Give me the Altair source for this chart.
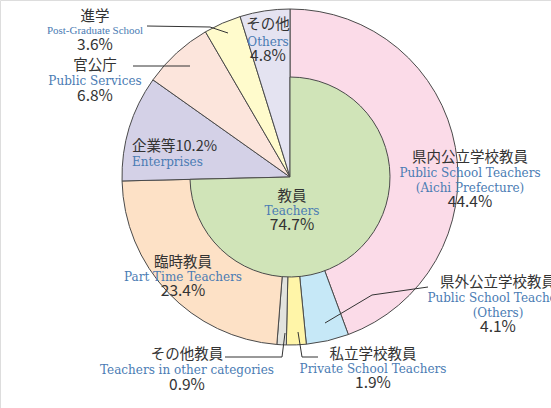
import altair as alt
import pandas as pd

# ---- data ----
categories = ["県内公立学校教員", "県外公立学校教員", "私立学校教員", "その他教員",
              "臨時教員", "企業等", "官公庁", "進学", "その他"]
english = ["Public School Teachers\n(Aichi Prefecture)", "Public School Teachers\n(Others)",
           "Private School Teachers", "Teachers in other categories", "Part Time Teachers",
           "Enterprises", "Public Services", "Post-Graduate School", "Others"]
values = [44.4, 4.1, 1.9, 0.9, 23.4, 10.2, 6.8, 3.6, 4.8]
colors = ["#fbdbe8", "#c6e8f7", "#fff5a8", "#e2e3de", "#fde1c6",
          "#d4d1e7", "#fce5dc", "#fffbcc", "#e4e3f1"]
inner_labels = ["教員", "other"]
inner_values = [74.7, 25.3]
inner_colors = ["#d0e4b8", "transparent"]
inner_strokes = ["#4a4a4a", "transparent"]

CX, CY = 290, 177
R_OUT, R_IN = 168, 100
JP_FONT = "Noto Sans CJK JP"
EN_FONT = "DejaVu Serif"
EN_SMALL_FONT = "Liberation Serif"
JP_COLOR = "#333333"
EN_COLOR = "#4a7bb3"

outer = pd.DataFrame({"cat": categories, "v": values, "o": list(range(len(values)))})
inner = pd.DataFrame({"icat": inner_labels, "v": inner_values, "o": [0, 1]})

outer_arc = alt.Chart(outer).mark_arc(outerRadius=R_OUT, stroke="#4a4a4a", strokeWidth=1).encode(
    theta=alt.Theta("v:Q", stack=True),
    order=alt.Order("o:Q"),
    fill=alt.Fill("cat:N", scale=alt.Scale(domain=categories, range=colors), legend=None),
    x=alt.value(CX), y=alt.value(CY),
)
inner_arc = alt.Chart(inner).mark_arc(outerRadius=R_IN, strokeWidth=1).encode(
    theta=alt.Theta("v:Q", stack=True),
    order=alt.Order("o:Q"),
    color=alt.Color("icat:N", scale=alt.Scale(domain=inner_labels, range=inner_colors), legend=None),
    stroke=alt.Stroke("icat:N", scale=alt.Scale(domain=inner_labels, range=inner_strokes), legend=None),
    x=alt.value(CX), y=alt.value(CY),
)

# ---- label layout (pixel positions of annotation text) ----
def pct(i):
    return f"{values[i]:.1f}%"

JP_SIZE, EN_SIZE, PCT_SIZE = 14.5, 12, 15.5
labels = []  # (x, y, text, kind, align, size)
def block(x, y_jp, y_en, y_pct, i, align="center", en_size=EN_SIZE, en_kind="en"):
    labels.append((x, y_jp, categories[i], "jp", align, JP_SIZE))
    for k, line in enumerate(english[i].split("\n")):
        labels.append((x, y_en + k * 14.5, line, en_kind, align, en_size))
    labels.append((x, y_pct, pct(i), "pct", align, PCT_SIZE))

block(470, 158, 173, 202, 0)
block(498, 283, 298, 327, 1)
block(373, 355, 369, 383, 2)
block(187, 355, 370, 385, 3)
block(183, 263, 277, 291, 4)
labels.append((132, 147, categories[5] + pct(5), "jp", "left", JP_SIZE))
labels.append((132, 162, english[5], "en", "left", EN_SIZE))
block(95, 66, 81, 96, 6)
block(95, 17, 31, 45, 7, en_size=11, en_kind="ens")
block(268, 25, 42, 56, 8)
labels.append((292, 197, inner_labels[0], "jp", "center", JP_SIZE))
labels.append((292, 211, "Teachers", "en", "center", EN_SIZE))
labels.append((292, 225, f"{inner_values[0]:.1f}%", "pct", "center", PCT_SIZE))

lab = pd.DataFrame(labels, columns=["x", "y", "t", "kind", "align", "size"])

text_layers = []
styles = {"jp": (JP_FONT, JP_COLOR), "en": (EN_FONT, EN_COLOR),
          "ens": (EN_SMALL_FONT, EN_COLOR), "pct": (JP_FONT, JP_COLOR)}
for (kind, align, sz), s in lab.groupby(["kind", "align", "size"]):
    font, color = styles[kind]
    text_layers.append(alt.Chart(s).mark_text(
        font=font, fontSize=float(sz), align=align, baseline="middle", fill=color).encode(
        x=alt.X("x:Q", scale=None), y=alt.Y("y:Q", scale=None), text="t:N"))

# ---- leader lines ----
lines = [
    [(147, 26), (210, 27), (228, 33)],
    [(133, 66), (190, 66)],
    [(428, 287), (372, 295), (325, 323)],
    [(298, 332), (302, 357), (318, 357)],
    [(225, 357), (282, 357), (285, 333)],
]
rows = []
for gi, pts in enumerate(lines):
    for k, (px, py) in enumerate(pts):
        rows.append({"g": gi, "k": k, "x": px, "y": py})
leader = alt.Chart(pd.DataFrame(rows)).mark_line(color="#333333", strokeWidth=1).encode(
    x=alt.X("x:Q", scale=None), y=alt.Y("y:Q", scale=None),
    detail="g:N", order="k:Q")

chart = alt.layer(outer_arc, inner_arc, leader, *text_layers).resolve_scale(
    color="independent", fill="independent", stroke="independent"
).properties(
    width=551, height=408, autosize=alt.AutoSizeParams(type="none"), padding=0
).configure_view(stroke=None).configure(background="white")

chart.save("out.html", embed_options={"renderer": "svg", "actions": False})
